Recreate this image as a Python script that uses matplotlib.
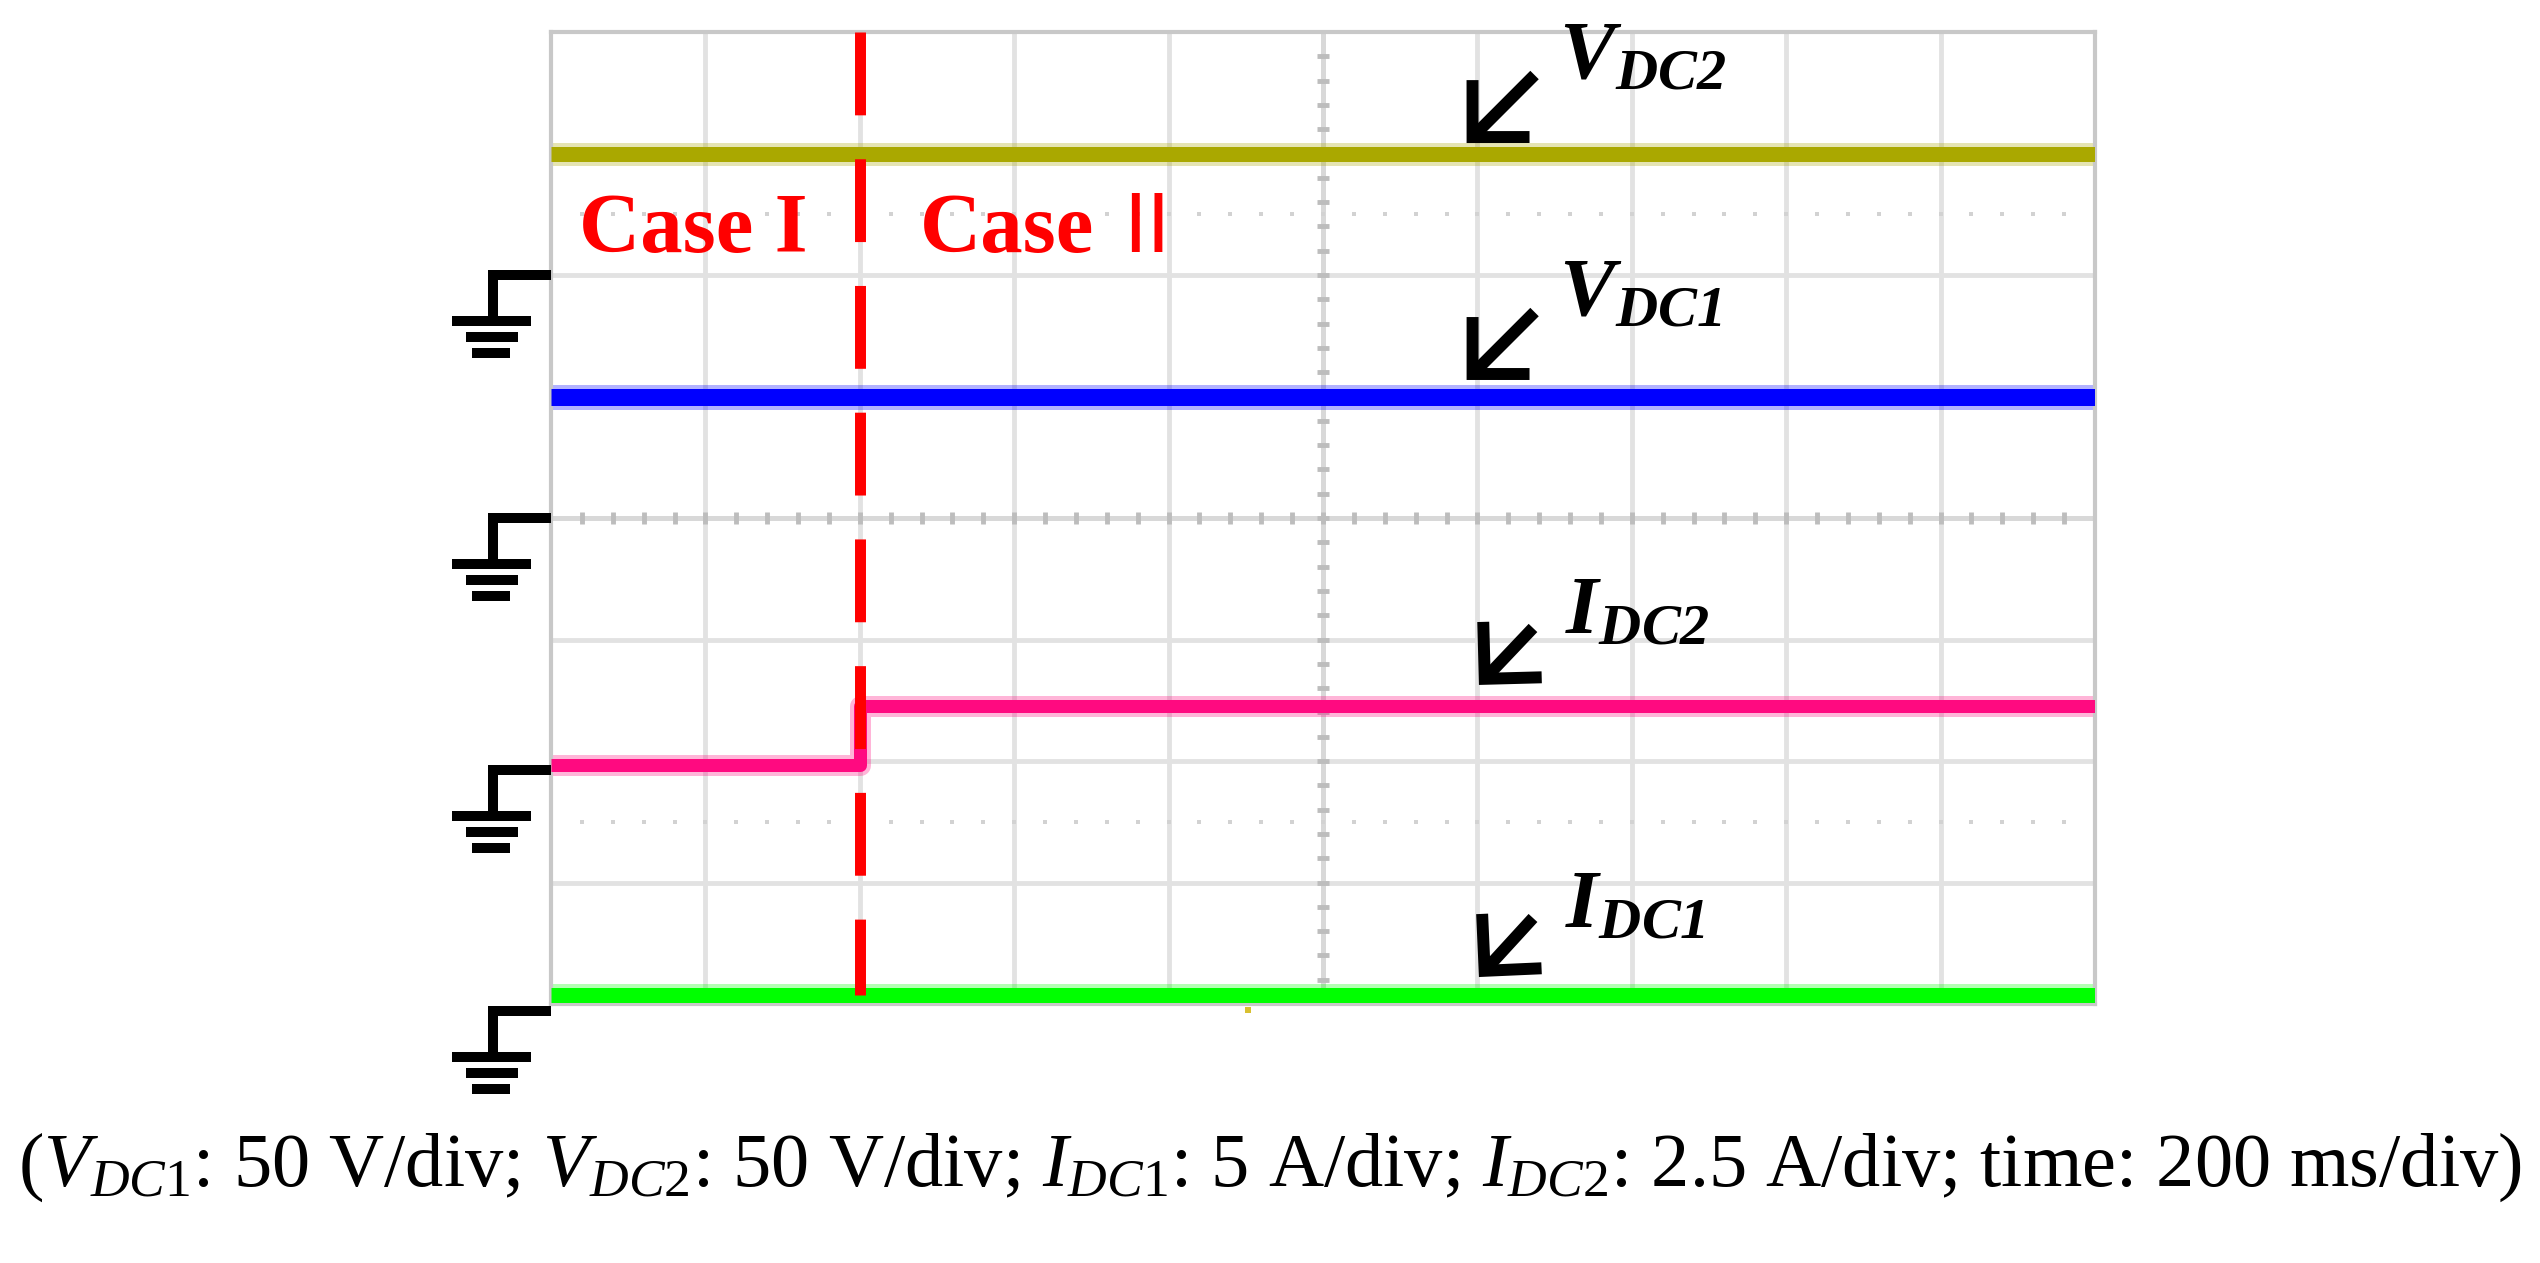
import matplotlib
matplotlib.use("Agg")
import matplotlib.pyplot as plt
import numpy as np

plt.rcParams['mathtext.fontset'] = 'custom'
plt.rcParams['mathtext.rm'] = 'Liberation Serif'
plt.rcParams['mathtext.it'] = 'Liberation Serif:italic'
plt.rcParams['mathtext.bf'] = 'Liberation Serif:bold'
plt.rcParams['mathtext.bfit'] = 'Liberation Serif:italic:bold'

# scope trace data (time in ms, 200 ms/div, 10 div)
time_ms = [0, 400, 400, 2000]
vdc2 = [50, 50, 50, 50]          # V
vdc1 = [50, 50, 50, 50]          # V
idc2 = [0.1, 0.1, 1.3, 1.3]      # A
idc1 = [0.65, 0.65, 0.65, 0.65]  # A
case_switch_ms = 400

channel_names = ["VDC2", "VDC1", "IDC2", "IDC1"]
channel_data = [vdc2, vdc1, idc2, idc1]
units_per_div = [50, 50, 2.5, 5]
ground_div = [6.0, 4.0, 1.93, -0.06]
channel_colors = ["#aaa800", "#0000ff", "#ff0a80", "#00ff00"]
channel_widths = [15, 17, 13, 15]   # px

caption = (r"($\mathit{V}_{\mathit{DC1}}$: 50 V/div; $\mathit{V}_{\mathit{DC2}}$: 50 V/div; "
           r"$\mathit{I}_{\mathit{DC1}}$: 5 A/div; $\mathit{I}_{\mathit{DC2}}$: 2.5 A/div; time: 200 ms/div)")

W, H = 2540, 1263
fig = plt.figure(figsize=(W / 100, H / 100), dpi=100)
ax = fig.add_axes([551 / W, 1 - 1004 / H, 1544 / W, 972 / H])
ax.set_xlim(0, 2000)
ax.set_ylim(0, 8)
ax.set_xticks([])
ax.set_yticks([])
for sp in ax.spines.values():
    sp.set_color("#c8c8c8")
    sp.set_linewidth(3)

# px -> data helpers (1 div = 154.4 px wide, 121.5 px high)
mx = 200 / 154.4
my = 1 / 121.5

# graticule
grid_c = "#e2e2e2"
for i in range(1, 10):
    ax.axvline(i * 200, color=grid_c, lw=3.5, zorder=0)
for j in range(1, 8):
    ax.axhline(j, color=grid_c, lw=3.5, zorder=0)
ax.axhline(4, color="#d8d8d8", lw=3.5, zorder=0.5)
ax.axvline(1000, color="#d8d8d8", lw=3.5, zorder=0.5)
minor_x = np.arange(40, 2000, 40)
minor_y = np.arange(0.2, 8, 0.2)
ax.plot(minor_x, np.full(len(minor_x), 4), ls="none", marker="|", ms=8,
        mew=3.5, color="#bdbdbd", zorder=0.6)
ax.plot(np.full(len(minor_y), 1000), minor_y, ls="none", marker="_", ms=8,
        mew=3.5, color="#bdbdbd", zorder=0.6)
for yy in [1.5, 6.5]:
    ax.plot(minor_x, np.full(len(minor_x), yy), ls="none", marker="s", ms=2.2,
            color="#d2d2d2", mew=0, zorder=0.6)

# traces
for name, vals, upd, g, c, w in zip(channel_names, channel_data, units_per_div,
                                    ground_div, channel_colors, channel_widths):
    y = [g + v / upd for v in vals]
    ax.plot(time_ms, y, color=c, lw=(w + 8) * 0.72, alpha=0.3,
            solid_capstyle="butt", zorder=2)
    ax.plot(time_ms, y, color=c, lw=w * 0.72, solid_capstyle="butt", zorder=3)

# small trigger mark
ax.plot([903], [-0.05], marker="s", ms=5, color="#d8c030", mew=0,
        clip_on=False, zorder=3)

# case boundary
top_y = 8
bot_y = ground_div[3] + idc1[0] / units_per_div[3]
ax.plot([case_switch_ms, case_switch_ms], [top_y, bot_y], color="#ff0000",
        lw=7.9, dashes=(7.55, 4.0), solid_capstyle="butt", dash_capstyle="butt",
        zorder=4, clip_on=False)

ax.text(36, 6.19, "Case I", color="#ff0000", fontsize=61, fontweight="bold",
        family="Liberation Serif", ha="left", va="baseline", zorder=5)
ax.text(478, 6.19, "Case", color="#ff0000", fontsize=61, fontweight="bold",
        family="Liberation Serif", ha="left", va="baseline", zorder=5)
ax.text(741, 6.19, "II", color="#ff0000", fontsize=61,
        family="Liberation Sans", ha="left", va="baseline", zorder=5)

# ground symbols
for g in ground_div:
    kw = dict(color="black", lw=7.2, solid_capstyle="butt", clip_on=False, zorder=5)
    ax.plot([-62 * mx, 0], [g, g], **kw)
    ax.plot([-58 * mx, -58 * mx], [g + 5 * my, g - 46 * my], **kw)
    ax.plot([-99 * mx, -20 * mx], [g - 46 * my, g - 46 * my], **kw)
    ax.plot([-85 * mx, -33 * mx], [g - 62 * my, g - 62 * my], **kw)
    ax.plot([-79 * mx, -41 * mx], [g - 78 * my, g - 78 * my], **kw)

# trace labels with arrows
labels = [r"$\mathbfit{V}_{\mathbfit{DC2}}$", r"$\mathbfit{V}_{\mathbfit{DC1}}$",
          r"$\mathbfit{I}_{\mathbfit{DC2}}$", r"$\mathbfit{I}_{\mathbfit{DC1}}$"]
label_pos = [(1306, 7.62), (1306, 5.67), (1313, 3.05), (1313, 0.63)]
arrow_tail = [(1274, 7.646), (1274, 5.695), (1272, 3.095), (1272, 0.708)]
arrow_tip = [(1186, 7.086), (1186, 5.136), (1202, 2.626), (1202, 0.222)]
for lab, lp, tl, tp in zip(labels, label_pos, arrow_tail, arrow_tip):
    ax.text(lp[0], lp[1], lab, fontsize=60, ha="left", va="baseline",
            clip_on=False, zorder=6)
    ax.annotate("", xy=tp, xytext=tl, annotation_clip=False,
                arrowprops=dict(arrowstyle="->,head_length=1,head_width=1",
                                mutation_scale=29, lw=8.6, color="black",
                                shrinkA=0, shrinkB=0, joinstyle="miter",
                                capstyle="butt"), zorder=6)

fig.text(0.5, 1 - 1186 / H, caption, fontsize=55, family="Liberation Serif",
         ha="center", va="baseline")

fig.savefig("out.png", dpi=100, facecolor="white")
